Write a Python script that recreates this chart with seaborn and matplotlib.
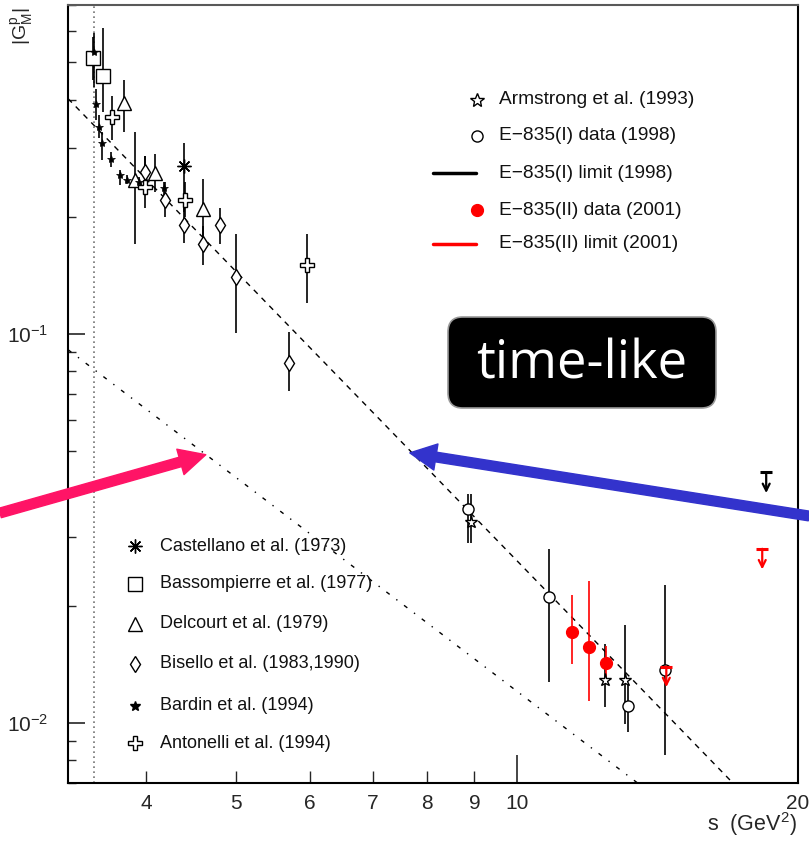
import matplotlib
matplotlib.use("Agg")
import matplotlib.pyplot as plt
import seaborn as sns
import numpy as np
import pandas as pd
from matplotlib.patches import FancyBboxPatch
from matplotlib.ticker import LogLocator, NullFormatter, LogFormatterSciNotation

# ---------------- data ----------------
castellano_s = [4.39]
castellano_g = [0.270]
castellano_lo = [0.205]
castellano_hi = [0.310]

bassompierre_s = [3.51, 3.60]
bassompierre_g = [0.511, 0.461]
bassompierre_lo = [0.45, 0.372]
bassompierre_hi = [0.58, 0.612]

delcourt_s = [3.79, 3.89, 4.09, 4.60]
delcourt_g = [0.391, 0.249, 0.2595, 0.2096]
delcourt_lo = [0.331, 0.170, 0.231, 0.175]
delcourt_hi = [0.450, 0.331, 0.290, 0.250]

bisello_s = [3.99, 4.19, 4.39, 4.60, 4.80, 5.00, 5.69]
bisello_g = [0.260, 0.221, 0.190, 0.170, 0.190, 0.140, 0.0841]
bisello_lo = [0.240, 0.200, 0.171, 0.1505, 0.170, 0.1006, 0.0711]
bisello_hi = [0.286, 0.245, 0.210, 0.189, 0.210, 0.180, 0.101]

bardin_s = [3.52, 3.54, 3.56, 3.59, 3.67, 3.75, 3.82, 3.93, 4.18]
bardin_g = [0.530, 0.390, 0.341, 0.310, 0.282, 0.256, 0.249, 0.246, 0.237]
bardin_lo = [0.431, 0.355, 0.318, 0.280, 0.269, 0.2415, 0.242, 0.240, 0.225]
bardin_hi = [0.594, 0.425, 0.365, 0.331, 0.294, 0.264, 0.256, 0.253, 0.246]

antonelli_s = [3.68, 3.99, 4.405, 5.95]
antonelli_g = [0.361, 0.239, 0.221, 0.1505]
antonelli_lo = [0.315, 0.210, 0.200, 0.120]
antonelli_hi = [0.409, 0.286, 0.245, 0.180]

armstrong_s = [8.92, 12.42, 13.05]
armstrong_g = [0.0328, 0.0129, 0.0129]
armstrong_lo = [0.0290, 0.01095, 0.00994]
armstrong_hi = [0.0388, 0.01596, 0.01786]

e835i_s = [8.85, 10.81, 13.15, 14.41]
e835i_g = [0.0354, 0.0210, 0.01106, 0.01363]
e835i_lo = [0.0290, 0.01273, 0.00946, 0.00824]
e835i_hi = [0.0388, 0.02796, 0.01268, 0.02259]

e835ii_s = [11.45, 11.95, 12.46]
e835ii_g = [0.01713, 0.01565, 0.01424]
e835ii_lo = [0.01416, 0.01134, 0.0129]
e835ii_hi = [0.02124, 0.02317, 0.01571]

e835i_limit_s = [18.49]
e835i_limit_g = [0.0440]
e835ii_limit_s = [14.45, 18.31]
e835ii_limit_g = [0.01395, 0.0280]

fit_dashed_s = [3.3, 17.03]
fit_dashed_g = [0.4023, 0.007]
fit_dashdot_s = [3.3, 13.46]
fit_dashdot_g = [0.0910, 0.007]

threshold_s = 3.52

x_minor_ticks = [4, 5, 6, 7, 8, 9]
x_major_ticks = [10, 20]

legend1_labels = ["Armstrong et al. (1993)", "E\u2212835(I) data (1998)",
                  "E\u2212835(I) limit (1998)", "E\u2212835(II) data (2001)",
                  "E\u2212835(II) limit (2001)"]
legend2_labels = ["Castellano et al. (1973)", "Bassompierre et al. (1977)",
                  "Delcourt et al. (1979)", "Bisello et al. (1983,1990)",
                  "Bardin et al. (1994)", "Antonelli et al. (1994)"]

# tip points of the highlight arrows (on the fit lines)
pink_tip = (4.637, 0.04887)
blue_tip = (7.672, 0.0494)

# ---------------- style ----------------
sns.set_style("ticks")
plt.rcParams['font.family'] = ['Liberation Sans', 'DejaVu Sans']
plt.rcParams['axes.unicode_minus'] = True

fig = plt.figure(figsize=(8.09, 8.43), dpi=100)
ax = fig.add_axes([68/809, 1 - 783/843, 730/809, 778/843])
ax.set_xscale('log')
ax.set_yscale('log')
ax.set_xlim(3.3, 20)
ax.set_ylim(0.007, 0.7)

RED = '#ff0000'
PINK = '#ff1466'
BLUE = '#3333cc'


def err(g, lo, hi):
    g = np.asarray(g); lo = np.asarray(lo); hi = np.asarray(hi)
    return [g - lo, hi - g]


def series(s, g, lo, hi, marker, ms, mfc='white', mec='black', ecolor='black', mew=1.0, z=3):
    ax.errorbar(s, g, yerr=err(g, lo, hi), fmt='none', ecolor=ecolor, elinewidth=1.2,
                capsize=0, zorder=2)
    ax.plot(s, g, linestyle='none', marker=marker, ms=ms, mfc=mfc, mec=mec, mew=mew, zorder=z)


# fit lines
df_dash = pd.DataFrame({'s': fit_dashed_s, 'g': fit_dashed_g})
df_dd = pd.DataFrame({'s': fit_dashdot_s, 'g': fit_dashdot_g})
sns.lineplot(data=df_dash, x='s', y='g', ax=ax, color='black', lw=1.0,
             linestyle=(0, (4, 4)), zorder=1)
sns.lineplot(data=df_dd, x='s', y='g', ax=ax, color='black', lw=1.0,
             linestyle=(0, (3, 6, 1, 6)), zorder=1)
ax.axvline(threshold_s, color='0.45', lw=1.2, linestyle=(0, (1, 2)), zorder=1)

# data points
series(bardin_s, bardin_g, bardin_lo, bardin_hi, '*', 6, mfc='black', mew=0.5, z=4)
series(bassompierre_s, bassompierre_g, bassompierre_lo, bassompierre_hi, 's', 9.4)
series(delcourt_s, delcourt_g, delcourt_lo, delcourt_hi, '^', 9.8)
series(castellano_s, castellano_g, castellano_lo, castellano_hi, (8, 2, 0), 10)
series(antonelli_s, antonelli_g, antonelli_lo, antonelli_hi, 'P', 9.8)
series(bisello_s, bisello_g, bisello_lo, bisello_hi, 'd', 7.8)
series(armstrong_s, armstrong_g, armstrong_lo, armstrong_hi, '*', 9.5)
series(e835i_s, e835i_g, e835i_lo, e835i_hi, 'o', 8)
series(e835ii_s, e835ii_g, e835ii_lo, e835ii_hi, 'o', 8.5, mfc=RED, mec=RED, ecolor=RED)

# upper limits
for s, g, c in zip(e835i_limit_s + e835ii_limit_s, e835i_limit_g + e835ii_limit_g,
                   ['black'] + [RED] * len(e835ii_limit_s)):
    ax.plot([s], [g], marker='_', ms=8, mew=2.2, color=c, linestyle='none', zorder=5)
    ax.annotate('', xy=(s, g * 0.885), xytext=(s, g), xycoords='data', textcoords='data',
                arrowprops=dict(arrowstyle='->,head_length=0.5,head_width=0.25', color=c, lw=1.6,
                                shrinkA=0, shrinkB=0), zorder=5)

# ticks
ax.xaxis.set_major_locator(matplotlib.ticker.FixedLocator(x_major_ticks))
ax.xaxis.set_major_formatter(matplotlib.ticker.FixedFormatter([str(t) for t in x_major_ticks]))
ax.xaxis.set_minor_locator(matplotlib.ticker.FixedLocator(x_minor_ticks))
ax.xaxis.set_minor_formatter(matplotlib.ticker.FixedFormatter([str(t) for t in x_minor_ticks]))
ax.yaxis.set_major_locator(LogLocator(base=10, numticks=10))
ax.yaxis.set_major_formatter(LogFormatterSciNotation())
ax.yaxis.set_minor_locator(LogLocator(base=10, subs=np.arange(2, 10), numticks=20))
ax.yaxis.set_minor_formatter(NullFormatter())

ax.tick_params(axis='x', which='major', direction='in', length=20, width=1.2, pad=8, labelsize=15)
ax.tick_params(axis='x', which='minor', direction='in', length=9, width=1.0, pad=8, labelsize=15)
ax.tick_params(axis='y', which='major', direction='in', length=12, width=1.2, pad=14, labelsize=15)
ax.tick_params(axis='y', which='minor', direction='in', length=6, width=1.0)

for sp in ax.spines.values():
    sp.set_visible(True)
    sp.set_linewidth(1.5)
    sp.set_color('black')
ax.spines['top'].set_color('0.35')

ax.set_xlabel(r's  (GeV$^{\mathdefault{2}}$)', fontsize=15.5, loc='right')
ax.xaxis.set_label_coords(0.999, -0.035)
ax.xaxis.label.set_va('top')
ax.set_ylabel(r'|G$^{\mathdefault{p}}_{\mathdefault{M}}$|', fontsize=14, loc='top')
ax.yaxis.set_label_coords(-0.044, 0.997)

# ---------------- legends (drawn manually in axes coords) ----------------
lt = ax.transAxes
# legend 1
l1_y = [0.878, 0.832, 0.784, 0.7365, 0.693]
ax.plot([0.560], [l1_y[0]], marker='*', ms=10, mfc='white', mec='black', mew=1.0, transform=lt)
ax.plot([0.560], [l1_y[1]], marker='o', ms=8, mfc='white', mec='black', mew=1.0, transform=lt)
ax.plot([0.500, 0.559], [l1_y[2]] * 2, color='black', lw=2.5, transform=lt)
ax.plot([0.560], [l1_y[3]], marker='o', ms=8.5, mfc=RED, mec=RED, transform=lt)
ax.plot([0.500, 0.559], [l1_y[4]] * 2, color=RED, lw=2.5, transform=lt)
for y, lab in zip(l1_y, legend1_labels):
    ax.text(0.590, y, lab, transform=lt, fontsize=13.8, va='center', ha='left', color='#111111')

# legend 2
l2_y = [0.3046, 0.2558, 0.2044, 0.1530, 0.0990, 0.0514]
l2_markers = [((8, 2, 0), 10, 'black'), ('s', 9.4, 'white'), ('^', 9.8, 'white'),
              ('d', 7.8, 'white'), ('*', 7, 'black'), ('P', 9.8, 'white')]
for y, (m, ms, fc) in zip(l2_y, l2_markers):
    ax.plot([0.092], [y], marker=m, ms=ms, mfc=fc, mec='black', mew=1.0, color='black',
            transform=lt)
for y, lab in zip(l2_y, legend2_labels):
    ax.text(0.126, y, lab, transform=lt, fontsize=13, va='center', ha='left', color='#111111')

# ---------------- time-like box ----------------
box = FancyBboxPatch((448/809, 1 - 408/843), 268/809, 91/843,
                     boxstyle='round,pad=0,rounding_size=0.018',
                     transform=fig.transFigure, facecolor='black', edgecolor='0.6', lw=1.2,
                     zorder=10)
fig.patches.append(box)
fig.text(582/809, 1 - 365/843, 'time-like', color='white', fontsize=38,
         family=['Open Sans', 'DejaVu Sans'], ha='center', va='center', zorder=11)

# ---------------- arrows ----------------
ax.annotate('', xy=pink_tip, xycoords='data', xytext=(0.0, 1 - 513/843),
            textcoords='figure fraction', annotation_clip=False,
            arrowprops=dict(width=7, headwidth=19, headlength=19, color=PINK, shrink=0),
            zorder=12)
ax.annotate('', xy=blue_tip, xycoords='data', xytext=(1.0, 1 - 516/843),
            textcoords='figure fraction', annotation_clip=False,
            arrowprops=dict(width=7, headwidth=19, headlength=19, color=BLUE, shrink=0),
            zorder=12)

fig.savefig('out.png', dpi=100)
